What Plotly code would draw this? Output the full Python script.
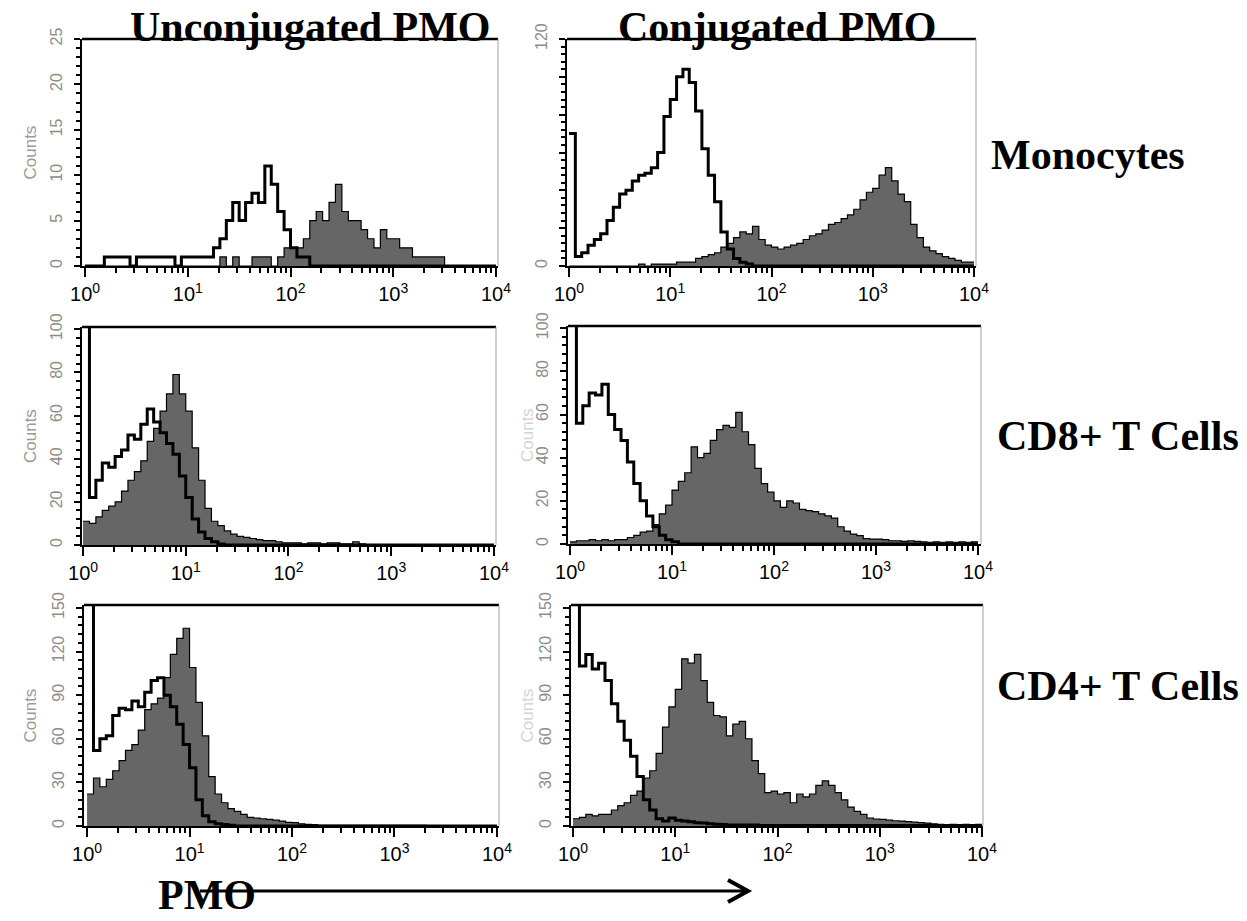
import plotly.graph_objects as go

W, H = 1247, 921

# ---- channel grid: 64 bins per 4 decades (1/16 decade per bin) ----
BINS_PER_DECADE = 16
N_BINS = 64

# ---- counts per bin ----
# Monocytes, unconjugated PMO
mono_unconj_open = [0, 0, 0, 1, 1, 1, 1, 0, 1, 1, 1, 1, 1, 1, 0, 1,
                    1, 1, 1, 1, 2, 3, 5, 7, 5, 7, 8, 7, 11, 9, 6, 4,
                    2, 1, 1, 0, 0, 0, 0, 0, 0, 0, 0, 0, 0, 0, 0, 0,
                    0, 0, 0, 0, 0, 0, 0, 0, 0, 0, 0, 0, 0, 0, 0, 0]
mono_unconj_fill = [0, 0, 0, 0, 0, 0, 0, 0, 0, 0, 0, 0, 0, 0, 0, 0,
                    0, 0, 0, 0, 0, 1, 0, 1, 0, 0, 1, 1, 1, 0, 1, 2,
                    2, 2, 3, 5, 6, 5, 7, 9, 6, 5, 5, 4, 3, 2, 4, 3,
                    3, 2, 2, 1, 1, 1, 1, 1, 0, 0, 0, 0, 0, 0, 0, 0]
# Monocytes, conjugated PMO
mono_conj_open = [70, 5, 7, 11, 14, 17, 24, 31, 38, 40, 45, 48, 49, 52, 60, 79,
                  88, 100, 104, 97, 82, 62, 48, 34, 18, 9, 4, 2, 1, 0, 0, 0,
                  0, 0, 0, 0, 0, 0, 0, 0, 0, 0, 0, 0, 0, 0, 0, 0,
                  0, 0, 0, 0, 0, 0, 0, 0, 0, 0, 0, 0, 0, 0, 0, 0]
mono_conj_fill = [0, 0, 0, 0, 0, 0, 0, 0, 0, 0, 0, 1, 0, 1, 1, 1,
                  1, 2, 2, 2, 4, 5, 6, 7, 10, 12, 15, 18, 17, 21, 14, 11,
                  10, 9, 10, 11, 12, 14, 16, 17, 19, 22, 23, 25, 27, 30, 35, 39,
                  41, 48, 52, 45, 38, 34, 22, 15, 10, 8, 6.5, 5, 4, 3, 2, 2]
# CD8+ T cells, unconjugated PMO
cd8_unconj_open = [105, 22, 30, 38, 36, 41, 44, 51, 49, 56, 63, 57, 52, 47, 42, 32,
                   22, 12, 6, 3, 1.5, 0.5, 0, 0, 0, 0, 0, 0, 0, 0, 0, 0,
                   0, 0, 0, 0, 0, 0, 0, 0, 0, 0, 0, 0, 0, 0, 0, 0,
                   0, 0, 0, 0, 0, 0, 0, 0, 0, 0, 0, 0, 0, 0, 0, 0]
cd8_unconj_fill = [11, 10, 13, 16, 18, 20, 25, 30, 34, 39, 48, 54, 62, 70, 79, 70,
                   62, 45, 30, 17, 11, 9, 6.5, 5, 4, 3.5, 3, 2.5, 2, 2, 1.5, 1,
                   1, 1, 0.5, 1, 1, 0.5, 1, 1, 0.5, 0.5, 1.5, 0.5, 0, 0, 0, 0,
                   0, 0, 0, 0, 0, 0, 0, 0, 0, 0, 0, 0, 0, 0, 0, 0]
# CD8+ T cells, conjugated PMO
cd8_conj_open = [105, 56, 64, 70, 69, 74, 60, 53, 48, 38, 28, 20, 13, 8, 4, 2,
                 1, 0, 0, 0, 0, 0, 0, 0, 0, 0, 0, 0, 0, 0, 0, 0,
                 0, 0, 0, 0, 0, 0, 0, 0, 0, 0, 0, 0, 0, 0, 0, 0,
                 0, 0, 0, 0, 0, 0, 0, 0, 0, 0, 0, 0, 0, 0, 0, 0]
cd8_conj_fill = [1, 1.5, 1.5, 2, 1.5, 2, 1.5, 2, 2, 3, 4, 5.5, 6, 9, 14, 18,
                 25, 29, 33, 45, 40, 42, 48, 53, 55, 54, 61, 52, 46, 35, 28, 24,
                 20, 17, 20, 19, 16, 15.5, 15, 14, 13, 12, 8, 6, 4.6, 3.9, 2.5, 2.3,
                 2.3, 2, 1.5, 1.5, 1.2, 1.5, 1.2, 1, 0.8, 1, 0.8, 1, 0.8, 1, 0.8, 1]
# CD4+ T cells, unconjugated PMO
cd4_unconj_open = [155, 52, 60, 62, 76, 81, 80, 86, 82, 92, 100, 102, 90, 82, 70, 56,
                   40, 18, 7, 3, 1.5, 1, 0.5, 0, 0, 0, 0, 0, 0, 0, 0, 0,
                   0, 0, 0, 0, 0, 0, 0, 0, 0, 0, 0, 0, 0, 0, 0, 0,
                   0, 0, 0, 0, 0, 0, 0, 0, 0, 0, 0, 0, 0, 0, 0, 0]
cd4_unconj_fill = [22, 33, 27, 32, 38, 45, 52, 56, 66, 80, 84, 88, 102, 118, 129, 136,
                   109, 85, 62, 34, 22, 16, 12, 10, 8, 6, 5.5, 5, 4.5, 4, 3.4, 2.5,
                   2.3, 1.5, 1.1, 1, 0.5, 0.5, 0.5, 0.5, 0.5, 0.5, 0.5, 0.5, 0.5, 0.5, 0.5, 0.5,
                   0.5, 0.5, 0.5, 0.5, 0.5, 0.3, 0.3, 0.3, 0.3, 0.3, 0.3, 0.3, 0.3, 0.3, 0.3, 0.3]
# CD4+ T cells, conjugated PMO
cd4_conj_open = [155, 110, 118, 108, 112, 100, 84, 72, 59, 48, 34, 18, 11, 5, 3.5, 5.5,
                 4, 3.4, 3, 2.3, 2, 1.5, 1.2, 1, 0.7, 0.7, 0.7, 0.7, 0.7, 0.3, 0.3, 0.3,
                 0.3, 0.3, 0.3, 0.3, 0.3, 0.3, 0.3, 0.3, 0.3, 0.3, 0.3, 0.3, 0.3, 0.3, 0.3, 0.3,
                 0.3, 0.3, 0.3, 0.3, 0.3, 0.3, 0.3, 0.3, 0.3, 0.3, 0.3, 0.3, 0.3, 0.3, 0.3, 0.3]
cd4_conj_fill = [5, 6, 8, 7, 8, 8, 11, 14, 16, 21, 24, 33, 38, 50, 68, 82,
                 94, 115, 112, 118, 100, 85, 76, 75, 62, 70, 72, 60, 45, 36, 23, 24,
                 22, 23, 16, 22, 20, 22, 28, 31, 28, 23, 18, 13, 10, 8, 5.5, 4.8,
                 4.5, 4, 3.6, 3.4, 3, 2.6, 2.3, 2, 1.5, 1.1, 1, 1.2, 1, 1.1, 1, 1.2]

# ---- tick labels ----
x_tickvals = [1, 10, 100, 1000, 10000]
x_ticktext = ["10<sup>0</sup>", "10<sup>1</sup>", "10<sup>2</sup>", "10<sup>3</sup>", "10<sup>4</sup>"]
x_minor_vals = [m * 10 ** d for d in range(4) for m in range(2, 10)]

mono_unconj_yticks = [0, 5, 10, 15, 20, 25]
mono_unconj_ytext = ["0", "5", "10", "15", "20", "25"]
mono_conj_yticks = [0, 20, 40, 60, 80, 100, 120]
mono_conj_ytext = ["0", "", "", "", "", "", "120"]
cd8_yticks = [0, 20, 40, 60, 80, 100]
cd8_ytext = ["0", "20", "40", "60", "80", "100"]
cd4_yticks = [0, 30, 60, 90, 120, 150]
cd4_ytext = ["0", "30", "60", "90", "120", "150"]

col_titles = ["Unconjugated PMO", "Conjugated PMO"]
row_titles = ["Monocytes", "CD8+ T Cells", "CD4+ T Cells"]
axis_word = "PMO"
count_word = "Counts"

# ---- layout (pixel boxes) ----
panels = [
    # open, fill, box x px, box y px, x log range, y range, yticks, ytext, minor dtick, counts colour
    (mono_unconj_open, mono_unconj_fill, (82, 498), (39, 266), (-0.03, 4.02), (0, 25),
     mono_unconj_yticks, mono_unconj_ytext, 1, "#9a9a9a"),
    (mono_conj_open, mono_conj_fill, (567, 976), (39, 266), (-0.02, 4.02), (0, 120),
     mono_conj_yticks, mono_conj_ytext, 4, None),
    (cd8_unconj_open, cd8_unconj_fill, (82, 496), (327, 545), (-0.01, 4.02), (0, 101),
     cd8_yticks, cd8_ytext, 4, "#9a9a9a"),
    (cd8_conj_open, cd8_conj_fill, (568, 981), (326, 544), (-0.02, 4.03), (0, 101),
     cd8_yticks, cd8_ytext, 4, "#d4d4d4"),
    (cd4_unconj_open, cd4_unconj_fill, (84, 499), (605, 826), (-0.03, 4.02), (0, 152),
     cd4_yticks, cd4_ytext, 6, "#9a9a9a"),
    (cd4_conj_open, cd4_conj_fill, (571, 983), (605, 826), (-0.02, 4.01), (0, 152),
     cd4_yticks, cd4_ytext, 6, "#d4d4d4"),
]

edges = [10 ** (k / BINS_PER_DECADE) for k in range(N_BINS + 1)]


def fx(p):
    return p / W


def fy(p):
    return 1 - p / H


fig = go.Figure()
layout = dict(
    width=W, height=H, margin=dict(l=0, r=0, t=0, b=0, autoexpand=False),
    paper_bgcolor="white", plot_bgcolor="white", showlegend=False,
)
shapes = []
annotations = []

for i, (opn, fil, bx, by, xr, yr, ytv, ytt, ymin, ccol) in enumerate(panels, start=1):
    xn = "x" if i == 1 else f"x{i}"
    yn = "y" if i == 1 else f"y{i}"
    fig.add_trace(go.Scatter(
        x=edges, y=fil + [fil[-1]], mode="lines",
        line=dict(shape="hv", color="black", width=1.2),
        fill="tozeroy", fillcolor="#666666", xaxis=xn, yaxis=yn, hoverinfo="skip"))
    fig.add_trace(go.Scatter(
        x=edges, y=opn + [opn[-1]], mode="lines",
        line=dict(shape="hv", color="black", width=3),
        xaxis=xn, yaxis=yn, hoverinfo="skip"))
    xkey = "xaxis" if i == 1 else f"xaxis{i}"
    ykey = "yaxis" if i == 1 else f"yaxis{i}"
    layout[xkey] = dict(
        type="log", domain=[fx(bx[0]), fx(bx[1])], range=list(xr), anchor=yn,
        automargin=False,
        showline=True, linecolor="black", linewidth=2, showgrid=False, zeroline=False,
        ticks="outside", ticklen=9, tickwidth=2, tickcolor="black",
        tickmode="array", tickvals=x_tickvals, ticktext=x_ticktext,
        tickfont=dict(family="Liberation Sans", size=20, color="black"),
        minor=dict(tickmode="array", tickvals=x_minor_vals, ticks="outside",
                   ticklen=5, tickwidth=2, tickcolor="black", showgrid=False),
        fixedrange=True,
    )
    layout[ykey] = dict(
        domain=[fy(by[1]), fy(by[0])], range=list(yr), anchor=xn,
        automargin=False,
        showline=True, linecolor="black", linewidth=2, showgrid=False, zeroline=False,
        ticks="outside", ticklen=6, tickwidth=2, tickcolor="black",
        tickmode="array", tickvals=ytv, ticktext=ytt, tickangle=-90,
        tickfont=dict(family="Liberation Sans", size=16, color="#8c8c8c"),
        ticklabelstandoff=6,
        minor=dict(dtick=ymin, tick0=0, ticks="outside", ticklen=4, tickwidth=2,
                   tickcolor="black", showgrid=False),
        fixedrange=True,
    )
    # top (thick black) and right (thin grey) frame lines
    shapes.append(dict(type="line", xref=f"{xn} domain", yref=f"{yn} domain",
                       x0=0, x1=1, y0=1, y1=1, line=dict(color="black", width=2.5)))
    shapes.append(dict(type="line", xref=f"{xn} domain", yref=f"{yn} domain",
                       x0=1, x1=1, y0=0, y1=1, line=dict(color="#a0a0a0", width=1)))
    if ccol:
        cx = 30 if bx[0] < 300 else 527
        annotations.append(dict(
            text=count_word, x=fx(cx), y=fy((by[0] + by[1]) / 2), xref="paper", yref="paper",
            showarrow=False, textangle=-90, xanchor="center", yanchor="middle",
            font=dict(family="Liberation Sans", size=17, color=ccol)))

title_font = dict(family="Liberation Serif", size=42, color="black")
for txt, (px, py) in zip(col_titles, [(310, 27), (777, 27)]):
    annotations.append(dict(text=f"<b>{txt}</b>", x=fx(px), y=fy(py), xref="paper", yref="paper",
                            showarrow=False, xanchor="center", yanchor="middle", font=title_font))
for txt, (px, py) in zip(row_titles, [(1088, 155), (1118, 436), (1118, 686)]):
    annotations.append(dict(text=f"<b>{txt}</b>", x=fx(px), y=fy(py), xref="paper", yref="paper",
                            showarrow=False, xanchor="center", yanchor="middle", font=title_font))
annotations.append(dict(text=f"<b>{axis_word}</b>", x=fx(207), y=fy(895), xref="paper", yref="paper",
                        showarrow=False, xanchor="center", yanchor="middle", font=title_font))

# arrow under the bottom panels
shapes.append(dict(type="line", xref="paper", yref="paper",
                   x0=fx(200), x1=fx(746), y0=fy(891), y1=fy(891),
                   line=dict(color="black", width=3)))
shapes.append(dict(type="path", xref="paper", yref="paper",
                   path=f"M {fx(728)} {fy(880)} L {fx(748)} {fy(891)} L {fx(728)} {fy(902)}",
                   line=dict(color="black", width=4)))

layout["shapes"] = shapes
layout["annotations"] = annotations
fig.update_layout(**layout)
fig.write_html("out.html")
